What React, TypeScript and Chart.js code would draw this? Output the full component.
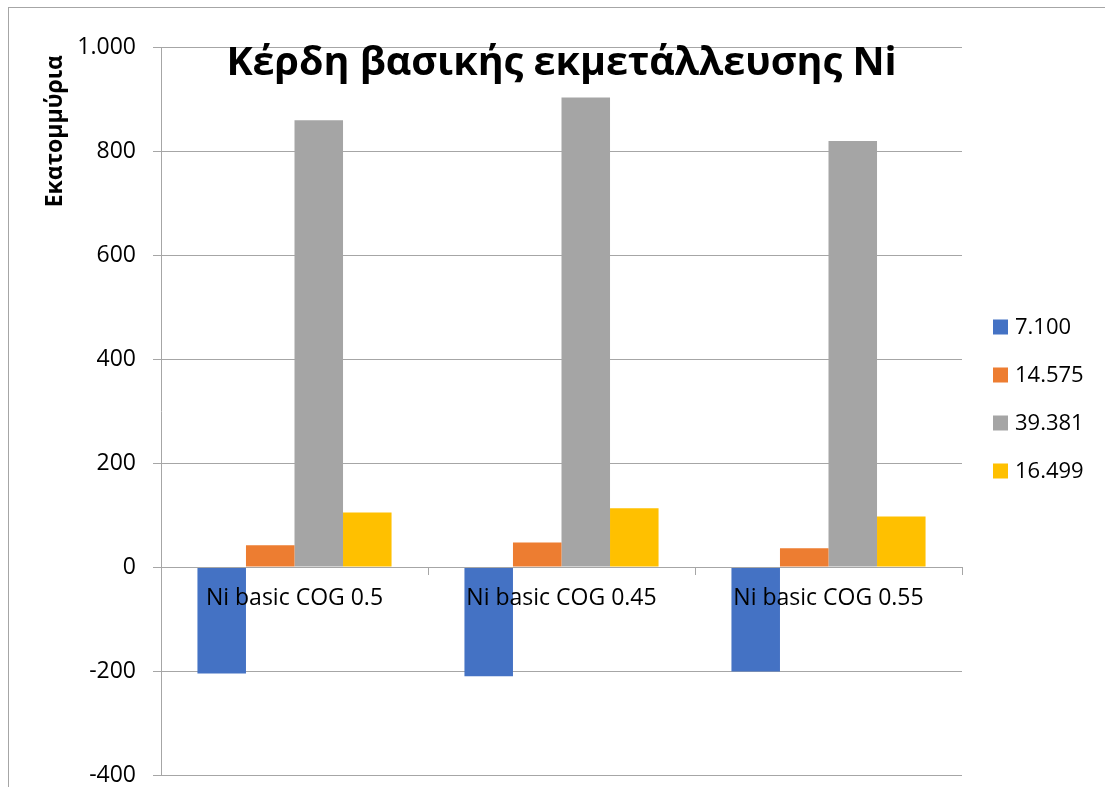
import React, { useEffect, useRef } from "react";
import { Chart, registerables } from "chart.js";

Chart.register(...registerables);

const categories = ["Ni basic COG 0.5", "Ni basic COG 0.45", "Ni basic COG 0.55"];
const seriesLabels = ["7.100", "14.575", "39.381", "16.499"];
const seriesColors = ["#4472C4", "#ED7D31", "#A5A5A5", "#FFC000"];
const values7100 = [-205, -210, -201];
const values14575 = [42, 47, 36];
const values39381 = [859, 903, 819];
const values16499 = [105, 113, 97];
const yMin = -400;
const yMax = 1000;
const yStep = 200;

const chartTitle = "Κέρδη βασικής εκμετάλλευσης Ni";
const yAxisTitle = "Εκατομμύρια";

const FONT = "'Open Sans', 'Noto Sans', sans-serif";
const GRID = "#a6a6a6";

const formatThousands = (v: number) =>
  String(v).replace(/\B(?=(\d{3})+(?!\d))/g, ".");

// Draws the overlaid chart title, the rotated axis title and the side legend.
const annotations = {
  id: "annotations",
  afterDraw(chart: Chart) {
    const ctx = chart.ctx;
    const area = chart.chartArea;
    ctx.save();
    ctx.fillStyle = "#000";

    // chart title, centred over the plot
    ctx.font = `bold 39.5px ${FONT}`;
    ctx.textAlign = "center";
    ctx.textBaseline = "alphabetic";
    ctx.fillText(chartTitle, (area.left + area.right) / 2, area.top + 28);

    // y axis title, rotated and aligned to the top of the axis
    ctx.translate(46, area.top + 8);
    ctx.rotate(-Math.PI / 2);
    ctx.font = `bold 23px ${FONT}`;
    ctx.textAlign = "right";
    ctx.textBaseline = "middle";
    ctx.fillText(yAxisTitle, 0, 0);
    ctx.setTransform(1, 0, 0, 1, 0, 0);

    // legend
    const datasets = chart.data.datasets;
    const x0 = area.right + 31;
    const midY = 391;
    const spacing = 48;
    ctx.font = `22px ${FONT}`;
    ctx.textAlign = "left";
    ctx.textBaseline = "middle";
    datasets.forEach((ds, i) => {
      const cy = midY + (i - (datasets.length - 1) / 2) * spacing;
      ctx.fillStyle = ds.backgroundColor as string;
      ctx.fillRect(x0, cy - 7.5, 15, 15);
      ctx.fillStyle = "#000";
      ctx.fillText(String(ds.label), x0 + 22, cy + 1);
    });
    ctx.restore();
  },
};

export default function App() {
  const canvasRef = useRef<HTMLCanvasElement | null>(null);

  useEffect(() => {
    if (!canvasRef.current) return;
    const seriesValues = [values7100, values14575, values39381, values16499];
    const chart = new Chart(canvasRef.current, {
      type: "bar",
      data: {
        labels: categories,
        datasets: seriesValues.map((vals, i) => ({
          label: seriesLabels[i],
          data: vals,
          backgroundColor: seriesColors[i],
          borderWidth: 0,
          categoryPercentage: 0.727,
          barPercentage: 1,
        })),
      },
      options: {
        responsive: false,
        animation: false,
        layout: { padding: { top: 39, bottom: 12, left: 0, right: 143 } },
        plugins: {
          legend: { display: false },
          title: { display: false },
          tooltip: { enabled: false },
        },
        scales: {
          x: {
            type: "category",
            position: { y: 0 },
            offset: true,
            afterFit: (scale: any) => {
              scale.paddingTop = 0;
              scale.paddingBottom = 0;
            },
            grid: {
              offset: true,
              drawOnChartArea: false,
              drawTicks: true,
              tickLength: 7,
              color: GRID,
            },
            border: { display: true, color: GRID, width: 1, z: 1 },
            ticks: {
              z: 1,
              color: "#000",
              font: { family: FONT, size: 23 },
              padding: 11,
              maxRotation: 0,
              autoSkip: false,
            },
          },
          y: {
            min: yMin,
            max: yMax,
            afterFit: (scale: any) => {
              scale.width = 152;
              scale.paddingBottom = 0;
            },
            grid: { color: GRID, tickLength: 8, lineWidth: 1 },
            border: { display: true, color: GRID },
            ticks: {
              stepSize: yStep,
              color: "#000",
              font: { family: FONT, size: 23 },
              padding: 17,
              callback: (v: any) => formatThousands(Number(v)),
            },
          },
        },
      },
      plugins: [annotations],
    });
    return () => chart.destroy();
  }, []);

  return (
    <div
      style={{
        position: "fixed",
        left: 8,
        top: 7,
        width: 1110,
        height: 800,
        borderLeft: `1px solid ${GRID}`,
        borderTop: `1px solid ${GRID}`,
        background: "#fff",
      }}
    >
      <canvas ref={canvasRef} width={1096} height={779} style={{ display: "block" }} />
    </div>
  );
}
